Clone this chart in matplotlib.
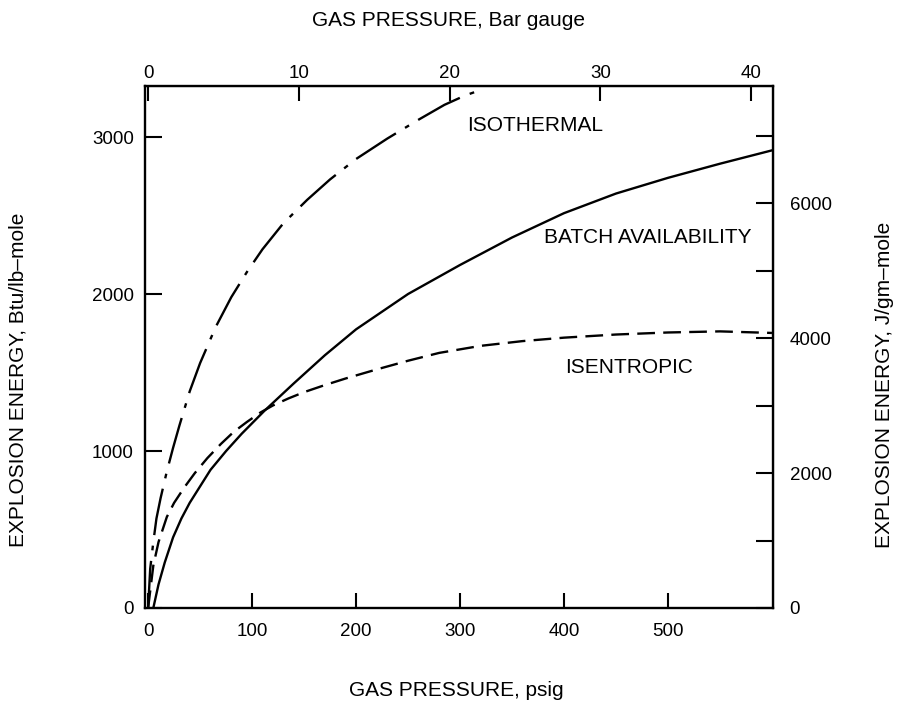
import matplotlib
matplotlib.use("Agg")
import matplotlib.pyplot as plt

plt.rcParams['font.family'] = ['Liberation Sans', 'DejaVu Sans']

# ---- data ----
iso_psig = [0, 2, 5, 8, 12, 18, 24, 30, 40, 50, 65, 80, 95, 110, 130, 153, 175, 200, 230, 260, 285, 305, 320]
iso_btu = [0, 250, 420, 570, 700, 870, 1020, 1160, 1380, 1560, 1790, 1980, 2140, 2285, 2450, 2600, 2730, 2860, 2990, 3110, 3205, 3265, 3300]

batch_psig = [5, 10, 16, 24, 32, 40, 50, 60, 75, 90, 112, 140, 170, 200, 250, 300, 350, 400, 450, 500, 550, 600]
batch_btu = [0, 150, 290, 450, 570, 670, 775, 880, 1000, 1110, 1257, 1430, 1610, 1775, 2000, 2185, 2360, 2515, 2640, 2740, 2830, 2915]

isen_psig = [0, 5, 10, 18, 25, 35, 45, 57, 70, 82, 95, 108, 120, 135, 150, 170, 190, 220, 250, 280, 320, 360, 400, 450, 500, 550, 600]
isen_btu = [0, 270, 420, 580, 670, 770, 860, 955, 1045, 1120, 1185, 1245, 1290, 1335, 1375, 1420, 1462, 1520, 1575, 1625, 1670, 1700, 1722, 1742, 1755, 1762, 1752]

psig_ticks = [0, 100, 200, 300, 400, 500]
bar_ticks = [0, 10, 20, 30, 40]
btu_ticks = [0, 1000, 2000, 3000]
j_ticks = [0, 1000, 2000, 3000, 4000, 5000, 6000, 7000]
j_labels = ['0', '', '2000', '', '4000', '', '6000', '']

PSI_PER_BAR = 14.5
J_PER_BTU = 2.326

W, H = 898, 707
fig = plt.figure(figsize=(W / 100, H / 100), dpi=100)
ax = fig.add_axes([145 / W, 1 - 608 / H, (773 - 145) / W, (608 - 86) / H])

lw = 1.7
ax.plot(iso_psig, iso_btu, color='black', lw=lw, linestyle=(0, (20, 4.5, 2, 4.5)))
ax.plot(batch_psig, batch_btu, color='black', lw=lw, linestyle='-')
ax.plot(isen_psig, isen_btu, color='black', lw=lw, linestyle=(0, (7.5, 3.5)))

ax.set_xlim(-3, 601)
ax.set_ylim(0, 3325)
ax.set_xticks(psig_ticks)
ax.set_yticks(btu_ticks)
for s in ax.spines.values():
    s.set_linewidth(1.7)

fs = 13.5
tfs = 15
ax.tick_params(axis='x', direction='in', length=11, width=1.5, labelsize=fs, pad=11)
ax.tick_params(axis='y', direction='in', length=12, width=1.5, labelsize=fs, pad=8)

top = ax.secondary_xaxis('top', functions=(lambda p: p / PSI_PER_BAR, lambda b: b * PSI_PER_BAR))
top.set_xticks(bar_ticks)
top.tick_params(direction='in', length=11, width=1.5, labelsize=fs, pad=3)

right = ax.secondary_yaxis('right', functions=(lambda b: b * J_PER_BTU, lambda j: j / J_PER_BTU))
right.set_yticks(j_ticks)
right.set_yticklabels(j_labels)
right.tick_params(direction='in', length=12, width=1.5, labelsize=fs, pad=12)

# curve labels
ax.text(372, 3076, 'ISOTHERMAL', ha='center', va='center', fontsize=tfs)
ax.text(481, 2357, 'BATCH AVAILABILITY', ha='center', va='center', fontsize=tfs)
ax.text(463, 1535, 'ISENTROPIC', ha='center', va='center', fontsize=tfs)

# axis titles
fig.text(449 / W, 1 - 20 / H, 'GAS PRESSURE, Bar gauge', ha='center', va='center', fontsize=tfs)
fig.text(456 / W, 1 - 690 / H, 'GAS PRESSURE, psig', ha='center', va='center', fontsize=tfs)
fig.text(18 / W, 1 - 380 / H, 'EXPLOSION ENERGY, Btu/lb\u2013mole', ha='center', va='center',
         rotation=90, fontsize=tfs)
fig.text(885 / W, 1 - 385 / H, 'EXPLOSION ENERGY, J/gm\u2013mole', ha='center', va='center',
         rotation=90, fontsize=tfs)

fig.savefig('out.png', dpi=100, facecolor='white')
